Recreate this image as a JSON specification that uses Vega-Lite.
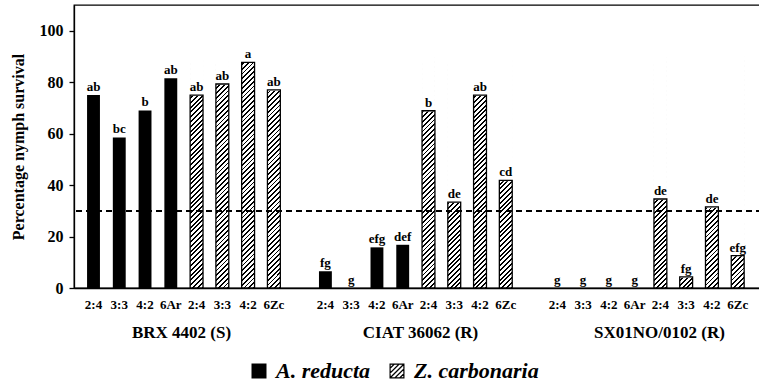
{
  "$schema": "https://vega.github.io/schema/vega-lite/v6.json",
  "width": 688,
  "height": 283,
  "autosize": {"type": "none"},
  "padding": {"left": 74, "top": 5, "right": 0, "bottom": 97},
  "background": "#ffffff",
  "config": {
    "font": "Liberation Serif",
    "view": {"stroke": "#000000", "strokeWidth": 1.3},
    "axis": {
      "labelFont": "Liberation Serif",
      "labelFontWeight": "bold",
      "labelColor": "#000000",
      "titleFont": "Liberation Serif",
      "titleColor": "#000000",
      "domainColor": "#000000",
      "tickColor": "#000000",
      "grid": false,
      "zindex": 1
    }
  },
  "data": {
    "values": [
      {"group": "BRX 4402 (S)", "treatment": "2:4", "species": "A. reducta", "survival": 75, "letter": "ab"},
      {"group": "BRX 4402 (S)", "treatment": "3:3", "species": "A. reducta", "survival": 58.5, "letter": "bc"},
      {"group": "BRX 4402 (S)", "treatment": "4:2", "species": "A. reducta", "survival": 69, "letter": "b"},
      {"group": "BRX 4402 (S)", "treatment": "6Ar", "species": "A. reducta", "survival": 81.5, "letter": "ab"},
      {"group": "BRX 4402 (S)", "treatment": "2:4", "species": "Z. carbonaria", "survival": 75, "letter": "ab"},
      {"group": "BRX 4402 (S)", "treatment": "3:3", "species": "Z. carbonaria", "survival": 79.3, "letter": "ab"},
      {"group": "BRX 4402 (S)", "treatment": "4:2", "species": "Z. carbonaria", "survival": 87.7, "letter": "a"},
      {"group": "BRX 4402 (S)", "treatment": "6Zc", "species": "Z. carbonaria", "survival": 77, "letter": "ab"},
      {"group": "CIAT 36062 (R)", "treatment": "2:4", "species": "A. reducta", "survival": 6.5, "letter": "fg"},
      {"group": "CIAT 36062 (R)", "treatment": "3:3", "species": "A. reducta", "survival": 0, "letter": "g"},
      {"group": "CIAT 36062 (R)", "treatment": "4:2", "species": "A. reducta", "survival": 15.8, "letter": "efg"},
      {"group": "CIAT 36062 (R)", "treatment": "6Ar", "species": "A. reducta", "survival": 16.8, "letter": "def"},
      {"group": "CIAT 36062 (R)", "treatment": "2:4", "species": "Z. carbonaria", "survival": 68.9, "letter": "b"},
      {"group": "CIAT 36062 (R)", "treatment": "3:3", "species": "Z. carbonaria", "survival": 33.4, "letter": "de"},
      {"group": "CIAT 36062 (R)", "treatment": "4:2", "species": "Z. carbonaria", "survival": 75, "letter": "ab"},
      {"group": "CIAT 36062 (R)", "treatment": "6Zc", "species": "Z. carbonaria", "survival": 41.8, "letter": "cd"},
      {"group": "SX01NO/0102 (R)", "treatment": "2:4", "species": "A. reducta", "survival": 0, "letter": "g"},
      {"group": "SX01NO/0102 (R)", "treatment": "3:3", "species": "A. reducta", "survival": 0, "letter": "g"},
      {"group": "SX01NO/0102 (R)", "treatment": "4:2", "species": "A. reducta", "survival": 0, "letter": "g"},
      {"group": "SX01NO/0102 (R)", "treatment": "6Ar", "species": "A. reducta", "survival": 0, "letter": "g"},
      {"group": "SX01NO/0102 (R)", "treatment": "2:4", "species": "Z. carbonaria", "survival": 34.6, "letter": "de"},
      {"group": "SX01NO/0102 (R)", "treatment": "3:3", "species": "Z. carbonaria", "survival": 4.3, "letter": "fg"},
      {"group": "SX01NO/0102 (R)", "treatment": "4:2", "species": "Z. carbonaria", "survival": 31.5, "letter": "de"},
      {"group": "SX01NO/0102 (R)", "treatment": "6Zc", "species": "Z. carbonaria", "survival": 12.6, "letter": "efg"}
    ]
  },
  "transform": [
    {"calculate": "datum.group + '|' + datum.treatment + '|' + datum.species", "as": "slot"}
  ],
  "layer": [
    {
      "encoding": {
        "x": {
          "field": "slot",
          "type": "nominal",
          "scale": {
            "type": "band",
            "domain": [
              "BRX 4402 (S)|2:4|A. reducta", "BRX 4402 (S)|3:3|A. reducta", "BRX 4402 (S)|4:2|A. reducta", "BRX 4402 (S)|6Ar|A. reducta",
              "BRX 4402 (S)|2:4|Z. carbonaria", "BRX 4402 (S)|3:3|Z. carbonaria", "BRX 4402 (S)|4:2|Z. carbonaria", "BRX 4402 (S)|6Zc|Z. carbonaria",
              "gap1",
              "CIAT 36062 (R)|2:4|A. reducta", "CIAT 36062 (R)|3:3|A. reducta", "CIAT 36062 (R)|4:2|A. reducta", "CIAT 36062 (R)|6Ar|A. reducta",
              "CIAT 36062 (R)|2:4|Z. carbonaria", "CIAT 36062 (R)|3:3|Z. carbonaria", "CIAT 36062 (R)|4:2|Z. carbonaria", "CIAT 36062 (R)|6Zc|Z. carbonaria",
              "gap2",
              "SX01NO/0102 (R)|2:4|A. reducta", "SX01NO/0102 (R)|3:3|A. reducta", "SX01NO/0102 (R)|4:2|A. reducta", "SX01NO/0102 (R)|6Ar|A. reducta",
              "SX01NO/0102 (R)|2:4|Z. carbonaria", "SX01NO/0102 (R)|3:3|Z. carbonaria", "SX01NO/0102 (R)|4:2|Z. carbonaria", "SX01NO/0102 (R)|6Zc|Z. carbonaria"
            ],
            "paddingInner": 0.5,
            "paddingOuter": 0.6,
            "align": 0.4224
          },
          "axis": {
            "title": null,
            "labelExpr": "indexof(datum.value, '|') < 0 ? '' : split(datum.value, '|')[1]",
            "labelAngle": 0,
            "ticks": false,
            "labelPadding": 10,
            "labelFontSize": 13,
            "domainWidth": 1.3
          }
        }
      },
      "layer": [
        {
          "transform": [{"filter": "datum.species === 'Z. carbonaria'"}],
          "mark": {
            "type": "bar",
            "stroke": null,
            "fill": {
              "gradient": "linear",
              "x1": 1, "y1": 1, "x2": 0.9425, "y2": -0.0333,
              "stops": [
                {"offset":0,"color":"#000"},{"offset":0.008,"color":"#000"},{"offset":0.008,"color":"#fff"},{"offset":0.02,"color":"#fff"},
                {"offset":0.02,"color":"#000"},{"offset":0.028,"color":"#000"},{"offset":0.028,"color":"#fff"},{"offset":0.04,"color":"#fff"},
                {"offset":0.04,"color":"#000"},{"offset":0.048,"color":"#000"},{"offset":0.048,"color":"#fff"},{"offset":0.06,"color":"#fff"},
                {"offset":0.06,"color":"#000"},{"offset":0.068,"color":"#000"},{"offset":0.068,"color":"#fff"},{"offset":0.08,"color":"#fff"},
                {"offset":0.08,"color":"#000"},{"offset":0.088,"color":"#000"},{"offset":0.088,"color":"#fff"},{"offset":0.1,"color":"#fff"},
                {"offset":0.1,"color":"#000"},{"offset":0.108,"color":"#000"},{"offset":0.108,"color":"#fff"},{"offset":0.12,"color":"#fff"},
                {"offset":0.12,"color":"#000"},{"offset":0.128,"color":"#000"},{"offset":0.128,"color":"#fff"},{"offset":0.14,"color":"#fff"},
                {"offset":0.14,"color":"#000"},{"offset":0.148,"color":"#000"},{"offset":0.148,"color":"#fff"},{"offset":0.16,"color":"#fff"},
                {"offset":0.16,"color":"#000"},{"offset":0.168,"color":"#000"},{"offset":0.168,"color":"#fff"},{"offset":0.18,"color":"#fff"},
                {"offset":0.18,"color":"#000"},{"offset":0.188,"color":"#000"},{"offset":0.188,"color":"#fff"},{"offset":0.2,"color":"#fff"},
                {"offset":0.2,"color":"#000"},{"offset":0.208,"color":"#000"},{"offset":0.208,"color":"#fff"},{"offset":0.22,"color":"#fff"},
                {"offset":0.22,"color":"#000"},{"offset":0.228,"color":"#000"},{"offset":0.228,"color":"#fff"},{"offset":0.24,"color":"#fff"},
                {"offset":0.24,"color":"#000"},{"offset":0.248,"color":"#000"},{"offset":0.248,"color":"#fff"},{"offset":0.26,"color":"#fff"},
                {"offset":0.26,"color":"#000"},{"offset":0.268,"color":"#000"},{"offset":0.268,"color":"#fff"},{"offset":0.28,"color":"#fff"},
                {"offset":0.28,"color":"#000"},{"offset":0.288,"color":"#000"},{"offset":0.288,"color":"#fff"},{"offset":0.3,"color":"#fff"},
                {"offset":0.3,"color":"#000"},{"offset":0.308,"color":"#000"},{"offset":0.308,"color":"#fff"},{"offset":0.32,"color":"#fff"},
                {"offset":0.32,"color":"#000"},{"offset":0.328,"color":"#000"},{"offset":0.328,"color":"#fff"},{"offset":0.34,"color":"#fff"},
                {"offset":0.34,"color":"#000"},{"offset":0.348,"color":"#000"},{"offset":0.348,"color":"#fff"},{"offset":0.36,"color":"#fff"},
                {"offset":0.36,"color":"#000"},{"offset":0.368,"color":"#000"},{"offset":0.368,"color":"#fff"},{"offset":0.38,"color":"#fff"},
                {"offset":0.38,"color":"#000"},{"offset":0.388,"color":"#000"},{"offset":0.388,"color":"#fff"},{"offset":0.4,"color":"#fff"},
                {"offset":0.4,"color":"#000"},{"offset":0.408,"color":"#000"},{"offset":0.408,"color":"#fff"},{"offset":0.42,"color":"#fff"},
                {"offset":0.42,"color":"#000"},{"offset":0.428,"color":"#000"},{"offset":0.428,"color":"#fff"},{"offset":0.44,"color":"#fff"},
                {"offset":0.44,"color":"#000"},{"offset":0.448,"color":"#000"},{"offset":0.448,"color":"#fff"},{"offset":0.46,"color":"#fff"},
                {"offset":0.46,"color":"#000"},{"offset":0.468,"color":"#000"},{"offset":0.468,"color":"#fff"},{"offset":0.48,"color":"#fff"},
                {"offset":0.48,"color":"#000"},{"offset":0.488,"color":"#000"},{"offset":0.488,"color":"#fff"},{"offset":0.5,"color":"#fff"},
                {"offset":0.5,"color":"#000"},{"offset":0.508,"color":"#000"},{"offset":0.508,"color":"#fff"},{"offset":0.52,"color":"#fff"},
                {"offset":0.52,"color":"#000"},{"offset":0.528,"color":"#000"},{"offset":0.528,"color":"#fff"},{"offset":0.54,"color":"#fff"},
                {"offset":0.54,"color":"#000"},{"offset":0.548,"color":"#000"},{"offset":0.548,"color":"#fff"},{"offset":0.56,"color":"#fff"},
                {"offset":0.56,"color":"#000"},{"offset":0.568,"color":"#000"},{"offset":0.568,"color":"#fff"},{"offset":0.58,"color":"#fff"},
                {"offset":0.58,"color":"#000"},{"offset":0.588,"color":"#000"},{"offset":0.588,"color":"#fff"},{"offset":0.6,"color":"#fff"},
                {"offset":0.6,"color":"#000"},{"offset":0.608,"color":"#000"},{"offset":0.608,"color":"#fff"},{"offset":0.62,"color":"#fff"},
                {"offset":0.62,"color":"#000"},{"offset":0.628,"color":"#000"},{"offset":0.628,"color":"#fff"},{"offset":0.64,"color":"#fff"},
                {"offset":0.64,"color":"#000"},{"offset":0.648,"color":"#000"},{"offset":0.648,"color":"#fff"},{"offset":0.66,"color":"#fff"},
                {"offset":0.66,"color":"#000"},{"offset":0.668,"color":"#000"},{"offset":0.668,"color":"#fff"},{"offset":0.68,"color":"#fff"},
                {"offset":0.68,"color":"#000"},{"offset":0.688,"color":"#000"},{"offset":0.688,"color":"#fff"},{"offset":0.7,"color":"#fff"},
                {"offset":0.7,"color":"#000"},{"offset":0.708,"color":"#000"},{"offset":0.708,"color":"#fff"},{"offset":0.72,"color":"#fff"},
                {"offset":0.72,"color":"#000"},{"offset":0.728,"color":"#000"},{"offset":0.728,"color":"#fff"},{"offset":0.74,"color":"#fff"},
                {"offset":0.74,"color":"#000"},{"offset":0.748,"color":"#000"},{"offset":0.748,"color":"#fff"},{"offset":0.76,"color":"#fff"},
                {"offset":0.76,"color":"#000"},{"offset":0.768,"color":"#000"},{"offset":0.768,"color":"#fff"},{"offset":0.78,"color":"#fff"},
                {"offset":0.78,"color":"#000"},{"offset":0.788,"color":"#000"},{"offset":0.788,"color":"#fff"},{"offset":0.8,"color":"#fff"},
                {"offset":0.8,"color":"#000"},{"offset":0.808,"color":"#000"},{"offset":0.808,"color":"#fff"},{"offset":0.82,"color":"#fff"},
                {"offset":0.82,"color":"#000"},{"offset":0.828,"color":"#000"},{"offset":0.828,"color":"#fff"},{"offset":0.84,"color":"#fff"},
                {"offset":0.84,"color":"#000"},{"offset":0.848,"color":"#000"},{"offset":0.848,"color":"#fff"},{"offset":0.86,"color":"#fff"},
                {"offset":0.86,"color":"#000"},{"offset":0.868,"color":"#000"},{"offset":0.868,"color":"#fff"},{"offset":0.88,"color":"#fff"},
                {"offset":0.88,"color":"#000"},{"offset":0.888,"color":"#000"},{"offset":0.888,"color":"#fff"},{"offset":0.9,"color":"#fff"},
                {"offset":0.9,"color":"#000"},{"offset":0.908,"color":"#000"},{"offset":0.908,"color":"#fff"},{"offset":0.92,"color":"#fff"},
                {"offset":0.92,"color":"#000"},{"offset":0.928,"color":"#000"},{"offset":0.928,"color":"#fff"},{"offset":0.94,"color":"#fff"},
                {"offset":0.94,"color":"#000"},{"offset":0.948,"color":"#000"},{"offset":0.948,"color":"#fff"},{"offset":0.96,"color":"#fff"},
                {"offset":0.96,"color":"#000"},{"offset":0.968,"color":"#000"},{"offset":0.968,"color":"#fff"},{"offset":0.98,"color":"#fff"},
                {"offset":0.98,"color":"#000"},{"offset":0.988,"color":"#000"},{"offset":0.988,"color":"#fff"},{"offset":1,"color":"#fff"}
              ]
            }
          },
          "encoding": {
            "y": {
              "datum": 0,
              "type": "quantitative",
              "scale": {"domain": [0, 110], "nice": false},
              "axis": {
                "values": [0, 20, 40, 60, 80, 100],
                "title": "Percentage nymph survival",
                "titleFontSize": 16,
                "titleFontWeight": "bold",
                "titlePadding": 13,
                "labelFontSize": 16,
                "labelPadding": 6,
                "tickSize": 5,
                "tickWidth": 1.3,
                "domainWidth": 1.3
              }
            },
            "y2": {"datum": 90}
          }
        },
        {
          "transform": [{"filter": "datum.species === 'Z. carbonaria'"}],
          "mark": {"type": "bar", "fill": "#ffffff", "stroke": "#ffffff", "strokeWidth": 1.5},
          "encoding": {
            "y": {"field": "survival", "type": "quantitative"},
            "y2": {"datum": 90}
          }
        },
        {
          "transform": [{"filter": "datum.species === 'Z. carbonaria'"}],
          "mark": {"type": "bar", "fill": "#ffffff", "fillOpacity": 0, "stroke": "#000000", "strokeWidth": 1.3},
          "encoding": {
            "y": {"field": "survival", "type": "quantitative"}
          }
        },
        {
          "transform": [{"filter": "datum.species === 'A. reducta'"}],
          "mark": {"type": "bar", "fill": "#000000", "stroke": null},
          "encoding": {
            "y": {"field": "survival", "type": "quantitative"}
          }
        },
        {
          "mark": {"type": "point", "filled": true, "fill": "#000000", "opacity": 0},
          "encoding": {
            "y": {"field": "survival", "type": "quantitative"},
            "shape": {
              "field": "species",
              "type": "nominal",
              "scale": {
                "domain": ["A. reducta", "Z. carbonaria"],
                "range": [
                  "square",
                  "M-1,-1H1V-0.84H-1Z M-1,0.84H1V1H-1Z M-1,-1H-0.84V1H-1Z M0.84,-1H1V1H0.84Z M-1,-0.4L-0.4,-1L-0.16,-1L-1,-0.16Z M-1,0.24L0.24,-1L0.48,-1L-1,0.48Z M-1,0.88L0.88,-1L1,-1L1,-0.88L-0.88,1L-1,1Z M-0.48,1L1,-0.48L1,-0.24L-0.24,1Z M0.16,1L1,0.16L1,0.4L0.4,1Z"
                ]
              },
              "legend": {
                "orient": "none",
                "legendX": 174,
                "legendY": 355,
                "direction": "horizontal",
                "title": null,
                "symbolSize": 225,
                "symbolFillColor": "#000000",
                "symbolStrokeWidth": 0,
                "symbolOpacity": 1,
                "labelFont": "Liberation Serif",
                "labelFontSize": 22,
                "labelFontStyle": "italic",
                "labelFontWeight": "bold",
                "labelColor": "#000000",
                "labelOffset": 6,
                "columnPadding": 15,
                "padding": 0
              }
            }
          }
        },
        {
          "mark": {"type": "text", "baseline": "bottom", "dy": -1, "fontSize": 13, "fontWeight": "bold", "font": "Liberation Serif", "color": "#000000"},
          "encoding": {
            "y": {"field": "survival", "type": "quantitative"},
            "text": {"field": "letter"}
          }
        }
      ]
    },
    {
      "mark": {"type": "rule", "stroke": "#000000", "strokeWidth": 1.3, "strokeDash": [6, 4]},
      "encoding": {"y": {"datum": 30}}
    },
    {
      "mark": {"type": "text", "text": ""},
      "encoding": {
        "x": {
          "field": "group",
          "type": "nominal",
          "sort": ["BRX 4402 (S)", "CIAT 36062 (R)", "SX01NO/0102 (R)"],
          "scale": {"type": "point", "padding": 0, "range": [107, 585]},
          "axis": {
            "orient": "bottom",
            "title": null,
            "domain": false,
            "ticks": false,
            "labelAngle": 0,
            "offset": 30,
            "labelPadding": 6,
            "labelFontSize": 17
          }
        }
      }
    }
  ],
  "resolve": {"scale": {"x": "independent"}}
}
